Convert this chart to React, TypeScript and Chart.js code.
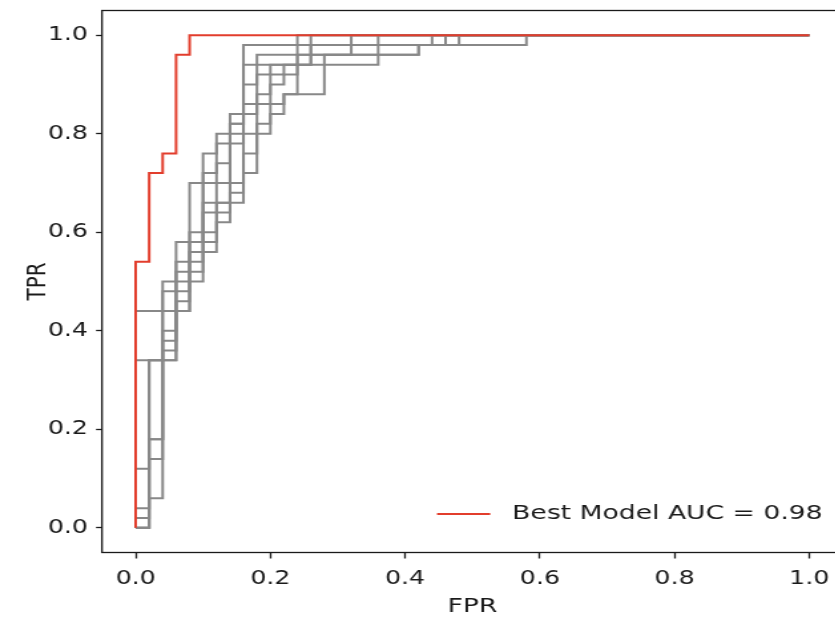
import React, { useEffect, useRef } from "react";
import { Chart, registerables } from "chart.js";

Chart.register(...registerables);

// Axis ticks
const xTicks = [0, 0.2, 0.4, 0.6, 0.8, 1.0];
const yTicks = [0, 0.2, 0.4, 0.6, 0.8, 1.0];

// Best model ROC (corner points at the top of each vertical step)
const bestFpr = [0, 0, 0.02, 0.04, 0.06, 0.08, 1.0];
const bestTpr = [0, 0.54, 0.72, 0.76, 0.96, 1.0, 1.0];
const bestLabel = "Best Model AUC = 0.98";

// Other models' ROC curves (gray)
const g1Fpr = [0, 0, 0.04, 0.06, 0.08, 0.1, 0.12, 0.14, 0.16, 0.58, 1.0];
const g1Tpr = [0, 0.44, 0.5, 0.58, 0.7, 0.76, 0.8, 0.84, 0.98, 1.0, 1.0];

const g2Fpr = [0, 0, 0.06, 0.08, 0.1, 0.12, 0.14, 0.16, 0.18, 0.32, 1.0];
const g2Tpr = [0, 0.34, 0.44, 0.56, 0.7, 0.74, 0.8, 0.86, 0.96, 1.0, 1.0];

const g3Fpr = [0, 0, 0.02, 0.04, 0.06, 0.08, 0.1, 0.14, 0.16, 0.18, 0.2, 0.24, 0.42, 0.46, 1.0];
const g3Tpr = [0, 0.04, 0.34, 0.48, 0.52, 0.6, 0.66, 0.82, 0.9, 0.92, 0.94, 0.96, 0.98, 1.0, 1.0];

const g4Fpr = [0, 0, 0.02, 0.04, 0.06, 0.08, 0.1, 0.12, 0.14, 0.16, 0.18, 0.2, 0.22, 0.24, 0.36, 1.0];
const g4Tpr = [0, 0.02, 0.18, 0.38, 0.48, 0.58, 0.64, 0.7, 0.78, 0.84, 0.88, 0.9, 0.92, 0.94, 1.0, 1.0];

const g5Fpr = [0, 0.02, 0.04, 0.06, 0.08, 0.1, 0.12, 0.14, 0.16, 0.18, 0.2, 0.22, 0.24, 1.0];
const g5Tpr = [0, 0.14, 0.34, 0.46, 0.54, 0.6, 0.66, 0.68, 0.8, 0.86, 0.86, 0.88, 1.0, 1.0];

const g6Fpr = [0, 0.02, 0.04, 0.06, 0.08, 0.1, 0.12, 0.14, 0.16, 0.18, 0.2, 0.22, 0.26, 0.44, 1.0];
const g6Tpr = [0, 0.06, 0.44, 0.5, 0.52, 0.56, 0.64, 0.66, 0.72, 0.8, 0.92, 0.94, 0.98, 1.0, 1.0];

const g7Fpr = [0, 0, 0.02, 0.04, 0.06, 0.08, 0.1, 0.12, 0.14, 0.16, 0.26, 1.0];
const g7Tpr = [0, 0.12, 0.34, 0.4, 0.54, 0.58, 0.72, 0.78, 0.82, 0.94, 1.0, 1.0];

const g8Fpr = [0, 0.02, 0.04, 0.06, 0.08, 0.1, 0.12, 0.14, 0.16, 0.18, 0.2, 0.22, 0.28, 0.42, 0.48, 1.0];
const g8Tpr = [0, 0.18, 0.36, 0.44, 0.5, 0.58, 0.62, 0.7, 0.76, 0.82, 0.84, 0.88, 0.96, 0.98, 1.0, 1.0];

const grayFprs = [g1Fpr, g2Fpr, g3Fpr, g4Fpr, g5Fpr, g6Fpr, g7Fpr, g8Fpr];
const grayTprs = [g1Tpr, g2Tpr, g3Tpr, g4Tpr, g5Tpr, g6Tpr, g7Tpr, g8Tpr];

const STRETCH = 1.33;
const W = 650;
const H = 619;
const RED = "#e23d2c";
const GRAY = "#888888";
const TEXT = "#1a1a1a";
const FONT = "'DejaVu Sans', sans-serif";

const pts = (xs: number[], ys: number[]) => xs.map((x, i) => ({ x, y: ys[i] }));

export default function App() {
  const ref = useRef<HTMLCanvasElement | null>(null);

  useEffect(() => {
    const canvas = ref.current;
    if (!canvas) return;

    const framePlugin = {
      id: "frameAndLegend",
      afterDraw(chart: any) {
        const { ctx, chartArea } = chart;
        ctx.save();
        ctx.strokeStyle = "#1a1a1a";
        ctx.lineWidth = 1.3;
        ctx.strokeRect(chartArea.left, chartArea.top, chartArea.right - chartArea.left, chartArea.bottom - chartArea.top);
        // legend
        const ly = chartArea.bottom - 38.5;
        const lx = chartArea.right - 305.2;
        ctx.strokeStyle = RED;
        ctx.lineWidth = 2;
        ctx.beginPath();
        ctx.moveTo(lx, ly);
        ctx.lineTo(lx + 40, ly);
        ctx.stroke();
        ctx.fillStyle = TEXT;
        ctx.font = `20px ${FONT}`;
        ctx.textBaseline = "middle";
        ctx.textAlign = "left";
        ctx.fillText(bestLabel, lx + 56.5, ly);
        ctx.restore();
      },
    };

    const datasets: any[] = [
      {
        label: bestLabel,
        data: pts(bestFpr, bestTpr),
        borderColor: RED,
        borderWidth: 2,
        pointRadius: 0,
        stepped: "before",
        fill: false,
      },
      ...grayFprs.map((f, i) => ({
        label: `model ${i + 1}`,
        data: pts(f, grayTprs[i]),
        borderColor: GRAY,
        borderWidth: 2,
        pointRadius: 0,
        stepped: "before",
        fill: false,
      })),
    ];

    const tickFont = { family: FONT, size: 19 };

    const chart = new Chart(canvas, {
      type: "line",
      data: { datasets },
      options: {
        animation: false,
        responsive: false,
        devicePixelRatio: 1,
        layout: { padding: { top: 10.5, right: 16.2, left: 0, bottom: 0 } },
        plugins: { legend: { display: false }, tooltip: { enabled: false } },
        scales: {
          x: {
            type: "linear",
            min: -0.05,
            max: 1.05,
            afterBuildTicks: (s: any) => {
              s.ticks = xTicks.map((v) => ({ value: v }));
            },
            afterFit: (s: any) => {
              s.height = 66.5;
              s.paddingLeft = 0;
              s.paddingRight = 0;
            },
            ticks: {
              callback: (v: any) => Number(v).toFixed(1),
              font: tickFont,
              color: TEXT,
              padding: 9,
              maxRotation: 0,
              autoSkip: false,
            },
            grid: { drawOnChartArea: false, drawTicks: true, tickLength: 6, tickColor: "#1a1a1a", tickWidth: 1.3 },
            border: { display: false },
            title: { display: true, text: "FPR", font: { family: FONT, size: 20 }, color: TEXT, padding: { top: 0, bottom: 0 } },
          },
          y: {
            type: "linear",
            min: -0.05,
            max: 1.05,
            afterBuildTicks: (s: any) => {
              s.ticks = yTicks.map((v) => ({ value: v }));
            },
            afterFit: (s: any) => {
              s.width = 76.7;
              s.paddingTop = 0;
              s.paddingBottom = 0;
            },
            ticks: {
              callback: (v: any) => Number(v).toFixed(1),
              font: tickFont,
              color: TEXT,
              padding: 6,
              autoSkip: false,
            },
            grid: { drawOnChartArea: false, drawTicks: true, tickLength: 4.5, tickColor: "#1a1a1a", tickWidth: 1.3 },
            border: { display: false },
            title: { display: true, text: "TPR", font: { family: FONT, size: 20 }, color: TEXT, padding: { top: 17, bottom: 0 } },
          },
        },
      },
      plugins: [framePlugin],
    } as any);

    return () => chart.destroy();
  }, []);

  return (
    <div style={{ position: "fixed", left: 0, top: 0, width: 835, height: 619, overflow: "hidden", background: "#fff" }}>
      <canvas
        ref={ref}
        width={W}
        height={H}
        style={{ width: W, height: H, transform: `scaleX(${STRETCH})`, transformOrigin: "0 0", display: "block" }}
      />
    </div>
  );
}
